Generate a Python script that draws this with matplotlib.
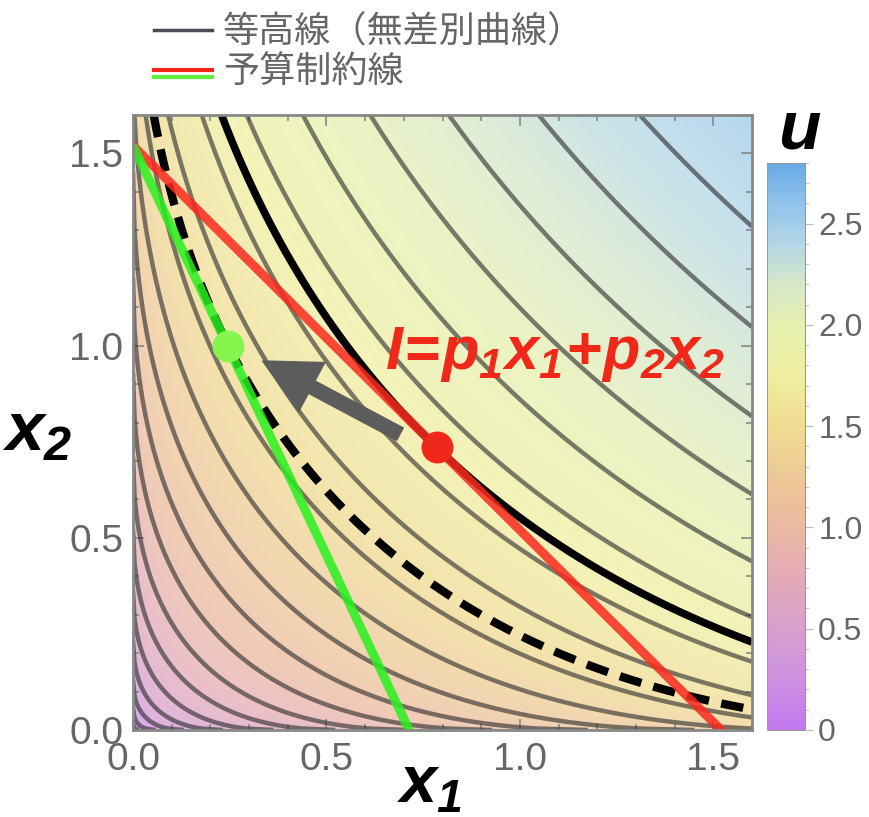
import numpy as np
import matplotlib.pyplot as plt
from matplotlib.colors import LinearSegmentedColormap, Normalize
from matplotlib.lines import Line2D
from matplotlib.legend_handler import HandlerBase
from matplotlib.ticker import MultipleLocator, FixedLocator

plt.rcParams['font.family'] = ['Liberation Sans', 'DejaVu Sans']
plt.rcParams['mathtext.fontset'] = 'custom'
plt.rcParams['mathtext.it'] = 'Liberation Sans:italic:bold'
plt.rcParams['mathtext.rm'] = 'Liberation Sans:italic:bold'
plt.rcParams['mathtext.bf'] = 'Liberation Sans:italic:bold'

# plot range and utility u = sqrt(x1) + sqrt(x2)
x_max = 1.6
u_max = 2.8          # top of colour bar
n_contours = 20
income = 1.52        # I
p2 = 1.0
p1_red = 1.0
p1_green = 2.13
red_pt = (0.785, 0.735)
green_pt = (0.246, 1.0)
arrow_tail = (0.69, 0.77)
arrow_head = (0.335, 0.96)

# colour bar colours (value, rgb)
cmap_vals = [0.0, 0.25, 0.5, 0.75, 1.0, 1.25, 1.5, 1.75, 2.0, 2.2, 2.4, 2.6, 2.8]
cmap_cols = ['#c278f0', '#cd91e1', '#d7a0cd', '#e4aab9', '#ebb9a0', '#eec896',
             '#f0dc91', '#f0eea0', '#e6f0af', '#d7e8c8', '#b4d7e6', '#91c3eb', '#69aae6']


def util(a, b):
    return np.sqrt(a) + np.sqrt(b)


cmap = LinearSegmentedColormap.from_list(
    'u', list(zip(np.array(cmap_vals) / u_max, cmap_cols)))
norm = Normalize(0, u_max)

g = np.linspace(0, x_max, 400)
X1, X2 = np.meshgrid(g, g)
U = util(X1, X2)
step = U.max() / (n_contours + 1)
levels = step * np.arange(1, n_contours + 1)

fig = plt.figure(figsize=(8.7, 8.17), dpi=100)
ax = fig.add_axes([0.1529, 0.1065, 0.7115, 0.7527])
cax = fig.add_axes([0.8816, 0.1065, 0.0437, 0.694])

ax.imshow(U, origin='lower', extent=[0, x_max, 0, x_max], cmap=cmap, norm=norm,
          alpha=0.75, aspect='auto', interpolation='bilinear')
ax.contour(X1, X2, U, levels=levels, colors='#282828', alpha=0.6, linewidths=3.2)

u_red = util(*red_pt)
u_green = util(*green_pt)
ax.contour(X1, X2, U, levels=[u_red], colors='black', linewidths=5.5)
cs = ax.contour(X1, X2, U, levels=[u_green], colors='black', linewidths=6.0)
cs.set_linestyle((0, (2.7, 1.5)))

# budget lines
bx = np.array([0, x_max])
ax.plot(bx, (income - p1_red * bx) / p2, color='#fa2a1e', lw=6.5, alpha=0.85,
        solid_capstyle='butt')
ax.plot(bx, (income - p1_green * bx) / p2, color='#28f01e', lw=6.5, alpha=0.85,
        solid_capstyle='butt')
ax.plot(*red_pt, 'o', ms=23, color='#f0281a', mec='none')
ax.plot(*green_pt, 'o', ms=23, color='#86f54e', mec='none')

ax.annotate('', xy=arrow_head, xytext=arrow_tail,
            arrowprops=dict(arrowstyle='simple,head_width=2.0,head_length=2.0,tail_width=0.5',
                            color='#5c5c5c', mutation_scale=20, shrinkA=0, shrinkB=0))

ax.text(0.651, 0.94, r'$I\!=\!p_1x_1\!+\!p_2x_2$', color='#f0281a', fontsize=44,
        ha='left', va='baseline')

ax.set_xlim(0, x_max)
ax.set_ylim(0, x_max)
ax.set_xticks([0, 0.5, 1.0, 1.5])
ax.set_yticks([0, 0.5, 1.0, 1.5])
ax.set_xticklabels(['0.0', '0.5', '1.0', '1.5'])
ax.set_yticklabels(['0.0', '0.5', '1.0', '1.5'])
ax.xaxis.set_minor_locator(MultipleLocator(0.1))
ax.yaxis.set_minor_locator(MultipleLocator(0.1))
ax.tick_params(which='both', direction='in', top=True, right=True, color='#888888',
               labelcolor='#666666', labelsize=28, width=1.2)
ax.tick_params(which='major', length=8, pad=7)
ax.tick_params(axis='x', which='major', pad=9)
ax.tick_params(which='minor', length=4)
for s in ax.spines.values():
    s.set_color('#888888')
    s.set_linewidth(2)

ax.set_xlabel(r'$x_1$', fontsize=48, color='black', va='center', ha='center')
ax.set_ylabel(r'$x_2$', fontsize=50, color='black', rotation=0, va='center', ha='center')
ax.xaxis.set_label_coords(0.48, -0.09)
ax.yaxis.set_label_coords(-0.155, 0.485)

# colour bar
cb = fig.colorbar(plt.cm.ScalarMappable(norm=norm, cmap=cmap), cax=cax)
cb.set_ticks([0, 0.5, 1.0, 1.5, 2.0, 2.5])
cb.set_ticklabels(['0', '0.5', '1.0', '1.5', '2.0', '2.5'])
cb.ax.yaxis.set_minor_locator(FixedLocator(np.arange(0, 2.81, 0.1)))
cb.ax.tick_params(which='both', color='#bbbbbb', labelcolor='#666666', labelsize=23)
cb.ax.tick_params(which='major', length=6)
cb.ax.tick_params(which='minor', length=3)
cb.outline.set_edgecolor('#999999')
cb.ax.text(0.85, 1.0, r'$u$', transform=cb.ax.transAxes, fontsize=50,
           ha='center', va='bottom')


class TwoLines(HandlerBase):
    def create_artists(self, legend, orig_handle, xd, yd, w, h, fontsize, trans):
        top = Line2D([-xd, w - xd], [h * 0.5 - yd] * 2, color='#f0281a', lw=3)
        bot = Line2D([-xd, w - xd], [h * 0.25 - yd] * 2, color='#60f040', lw=3)
        top.set_transform(trans)
        bot.set_transform(trans)
        return [top, bot]


h1 = Line2D([], [], color='#4a4a5a', lw=2.5)
h2 = Line2D([], [], color='#f0281a')
fig.legend([h1, h2], ['等高線（無差別曲線）', '予算制約線'],
           handler_map={h2: TwoLines()}, loc='upper left',
           bbox_to_anchor=(0.14, 1.022), frameon=False, handlelength=1.6,
           handletextpad=0.3, labelspacing=0.12, labelcolor='#666666',
           prop={'family': ['Noto Sans CJK JP', 'DejaVu Sans'], 'size': 26})

fig.savefig('out.png', dpi=100)
